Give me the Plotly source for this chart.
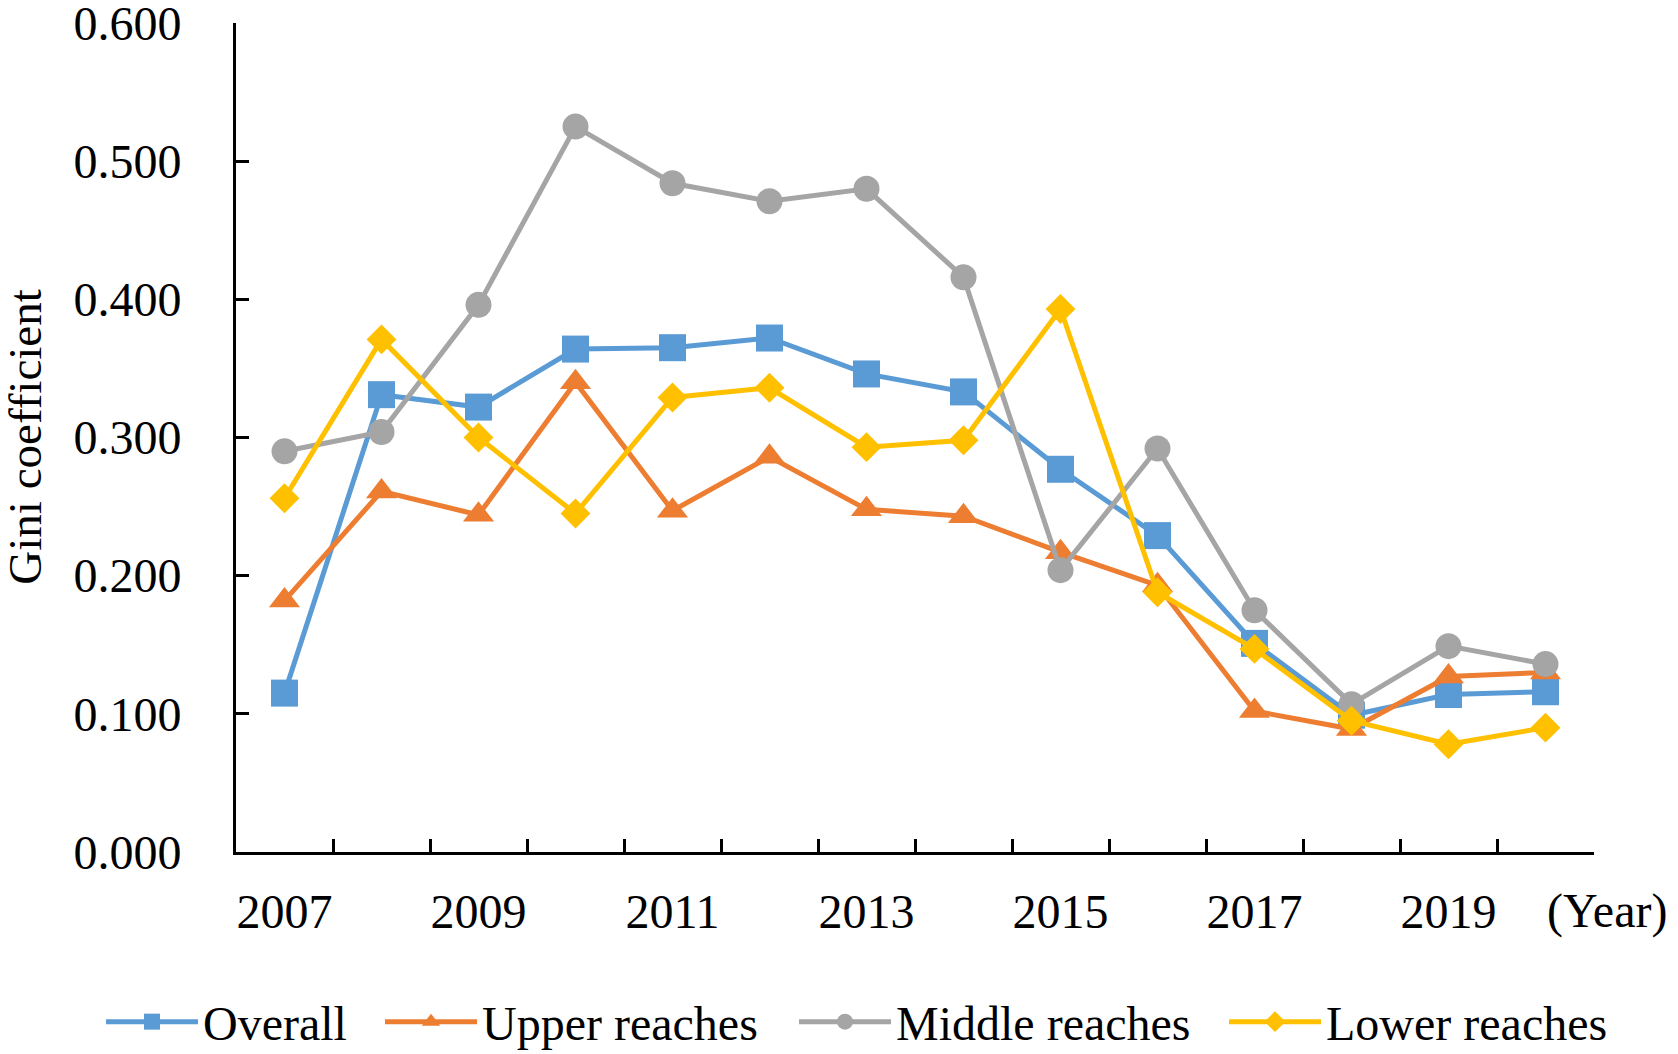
import plotly.graph_objects as go

# Dados
years = list(range(2007, 2021))
overall = [0.115, 0.331, 0.322, 0.364, 0.365, 0.372, 0.346, 0.333, 0.277, 0.229, 0.151, 0.099, 0.114, 0.116]
upper = [0.182, 0.261, 0.244, 0.340, 0.247, 0.286, 0.248, 0.243, 0.217, 0.193, 0.102, 0.089, 0.127, 0.130]
middle = [0.290, 0.304, 0.396, 0.525, 0.484, 0.471, 0.480, 0.416, 0.204, 0.292, 0.175, 0.107, 0.149, 0.136]
lower = [0.256, 0.371, 0.300, 0.245, 0.329, 0.336, 0.293, 0.298, 0.393, 0.188, 0.147, 0.095, 0.078, 0.090]

label_years = [2007, 2009, 2011, 2013, 2015, 2017, 2019]
boundaries = [y + 0.5 for y in years[:-1]]
y_ticks = [0.0, 0.1, 0.2, 0.3, 0.4, 0.5, 0.6]

# nome, valores, cor, símbolo, tamanho, largura da entrada na legenda
series = [
    ("Overall", overall, "#5B9BD5", "square", 27, 172),
    ("Upper reaches", upper, "#ED7D31", "triangle-up", 27, 307),
    ("Middle reaches", middle, "#A5A5A5", "circle", 26, 323),
    ("Lower reaches", lower, "#FFC000", "diamond", 23, 290),
]

font = "Liberation Serif, Times New Roman, serif"

fig = go.Figure()
for name, vals, color, symbol, size, lw in series:
    fig.add_trace(
        go.Scatter(
            x=years,
            y=vals,
            name=name,
            mode="lines+markers",
            line=dict(color=color, width=5),
            marker=dict(symbol=symbol, size=size, color=color),
            legendwidth=lw,
        )
    )

# eixo auxiliar só para os traços entre as categorias
fig.add_trace(go.Scatter(x=[years[0]], y=[None], xaxis="x2", showlegend=False, hoverinfo="skip"))

fig.update_layout(
    width=1670,
    height=1046,
    margin=dict(l=228, r=84, t=15, b=202, autoexpand=False),
    plot_bgcolor="white",
    paper_bgcolor="white",
    font=dict(family=font, size=48, color="black"),
    xaxis=dict(
        range=[2006.5, 2020.5],
        tickvals=label_years,
        ticktext=[str(y) for y in label_years],
        ticks="",
        ticklabelstandoff=15,
        showline=True,
        linecolor="black",
        linewidth=3,
        showgrid=False,
        zeroline=False,
        automargin=False,
        tickfont=dict(size=48),
    ),
    xaxis2=dict(
        overlaying="x",
        side="bottom",
        anchor="y",
        range=[2006.5, 2020.5],
        tickvals=boundaries,
        ticks="inside",
        ticklen=13,
        tickwidth=3,
        tickcolor="black",
        showticklabels=False,
        showline=False,
        showgrid=False,
        zeroline=False,
    ),
    yaxis=dict(
        range=[0, 0.6],
        tickvals=y_ticks,
        ticktext=[f"{v:.3f}" for v in y_ticks],
        ticks="inside",
        ticklen=13,
        tickwidth=3,
        tickcolor="black",
        ticklabelstandoff=42,
        ticklabeloverflow="allow",
        showline=True,
        linecolor="black",
        linewidth=3,
        showgrid=False,
        zeroline=False,
        automargin=False,
        tickfont=dict(size=48),
    ),
    legend=dict(
        orientation="h",
        x=-0.0994,
        xanchor="left",
        y=-0.205,
        yanchor="middle",
        font=dict(size=48),
        itemwidth=92,
        tracegroupgap=0,
    ),
    annotations=[
        dict(
            text="(Year)",
            xref="paper",
            yref="paper",
            x=1.055,
            y=0,
            xanchor="right",
            yanchor="top",
            yshift=-30,
            showarrow=False,
            font=dict(size=48),
        ),
        dict(
            text="Gini coefficient",
            xref="paper",
            yref="paper",
            x=-0.156,
            y=0.5,
            xanchor="center",
            yanchor="middle",
            textangle=-90,
            showarrow=False,
            font=dict(size=47),
        ),
    ],
)

fig.write_html("out.html")
